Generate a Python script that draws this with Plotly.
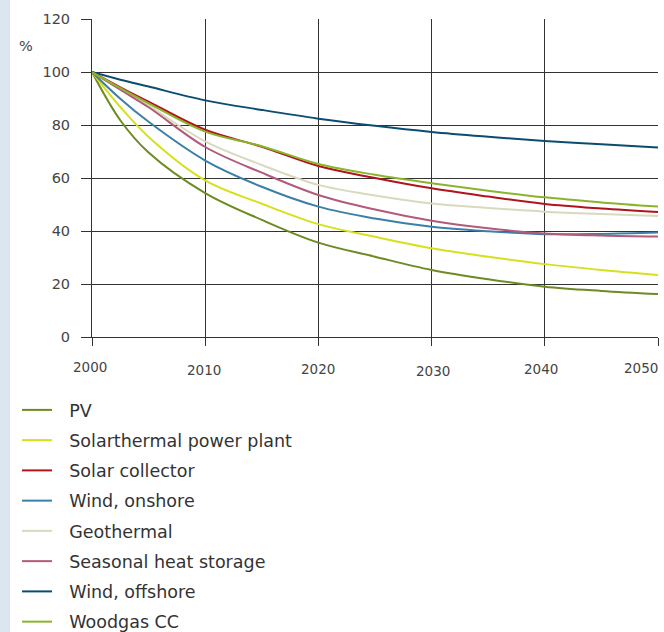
import plotly.graph_objects as go

years = [2000, 2002.5, 2005, 2010, 2015, 2020, 2025, 2030, 2035, 2040, 2045, 2050]

pv = [100, 81.8, 69.6, 54.3, 44.2, 35.6, 30.3, 25.3, 21.8, 19.0, 17.4, 16.2]
solarthermal = [100, 86.8, 75.5, 59.1, 50.3, 42.6, 37.8, 33.5, 30.3, 27.5, 25.3, 23.4]
solar_collector = [100, 94.2, 88.8, 78.2, 71.8, 64.5, 60.0, 56.1, 53.0, 50.2, 48.5, 47.2]
wind_onshore = [100, 89.9, 81.2, 66.6, 56.7, 49.2, 44.7, 41.6, 39.9, 38.8, 38.9, 39.4]
geothermal = [100, 93.7, 87.3, 73.8, 64.9, 57.4, 53.4, 50.4, 48.7, 47.3, 46.4, 45.7]
seasonal_storage = [100, 93.3, 86.7, 71.7, 62.0, 53.6, 48.1, 43.9, 41.0, 39.1, 38.3, 37.9]
wind_offshore = [100, 97.1, 94.5, 89.3, 85.7, 82.4, 79.7, 77.4, 75.6, 74.0, 72.7, 71.5]
woodgas = [100, 93.9, 88.2, 77.5, 72.0, 65.3, 61.2, 58.0, 55.2, 52.7, 50.8, 49.2]

series_names = ["PV", "Solarthermal power plant", "Solar collector", "Wind, onshore",
                "Geothermal", "Seasonal heat storage", "Wind, offshore", "Woodgas CC"]
series_values = [pv, solarthermal, solar_collector, wind_onshore,
                 geothermal, seasonal_storage, wind_offshore, woodgas]
series_colors = ["#6d8b22", "#d6e01c", "#b0141c", "#3b80a8",
                 "#d9d9bd", "#b35a7a", "#0a4d70", "#8ab52a"]

x_ticks = [2000, 2010, 2020, 2030, 2040, 2050]
x_tick_labels = ["2000", "2010", "2020", "2030", "2040", "2050"]
y_ticks = [0, 20, 40, 60, 80, 100, 120]
y_unit = "%"

# style: small per-label offsets (pixels) reproducing the staggered label layout
label_yshift = [-30, -33, -31.5, -34, -32, -30.5]
label_xshift = [-2, -1, 0, 1, -4, 2]
label_anchor = ["center", "center", "center", "center", "center", "right"]
legend_pad = "\u2002\u2009"  # visual gap between legend line sample and text

fig = go.Figure()
for i, (name, vals, col) in enumerate(zip(series_names, series_values, series_colors)):
    fig.add_trace(go.Scatter(
        x=years, y=vals, name=legend_pad + name, mode="lines",
        line=dict(color=col, width=2, shape="spline", smoothing=1.0),
        legendgroup=f"g{i}",
    ))

annotations = [dict(text=y_unit, xref="paper", yref="y", x=-75/566, y=109.8,
                    showarrow=False, xanchor="left", yanchor="middle",
                    font=dict(size=14.5, color="#444"))]
for v, t, ys, xs, an in zip(x_ticks, x_tick_labels, label_yshift, label_xshift, label_anchor):
    annotations.append(dict(text=t, xref="x", yref="paper", x=v, y=0,
                            xanchor=an, yanchor="middle", yshift=ys, xshift=xs,
                            showarrow=False, font=dict(size=13.5, color="#444")))

fig.update_layout(
    width=664, height=632,
    margin=dict(l=92, r=6, t=19, b=295, autoexpand=False),
    paper_bgcolor="white", plot_bgcolor="white",
    font=dict(family="DejaVu Sans", color="#444", size=14),
    showlegend=True,
    legend=dict(
        x=-0.1325, y=-0.173, xanchor="left", yanchor="top",
        orientation="v", tracegroupgap=4.5,
        font=dict(size=17.5, color="#333", family="DejaVu Sans"),
        itemwidth=30, bgcolor="rgba(0,0,0,0)",
    ),
    xaxis=dict(
        range=[2000, 2050], tickvals=x_ticks, showticklabels=False,
        showgrid=True, gridcolor="#333", gridwidth=1,
        showline=True, linecolor="#333", linewidth=1,
        ticks="outside", ticklen=8, tickcolor="#333",
        zeroline=False, fixedrange=True,
    ),
    yaxis=dict(
        range=[0, 120], tickvals=y_ticks,
        showgrid=True, gridcolor="#333", gridwidth=1,
        showline=True, linecolor="#333", linewidth=1,
        ticks="outside", ticklen=10, tickcolor="#333",
        tickfont=dict(size=14.5, color="#444"), ticklabelstandoff=8,
        zeroline=False, fixedrange=True,
    ),
    shapes=[dict(type="rect", xref="paper", yref="paper",
                 x0=-92/566, x1=-82/566, y0=-295/318, y1=1 + 19/318,
                 fillcolor="#dce6f0", line=dict(width=0), layer="below")],
    annotations=annotations,
)

fig.write_html("out.html", config={"displayModeBar": False},
               post_script="document.body.style.margin='0';document.body.style.overflow='hidden';")
